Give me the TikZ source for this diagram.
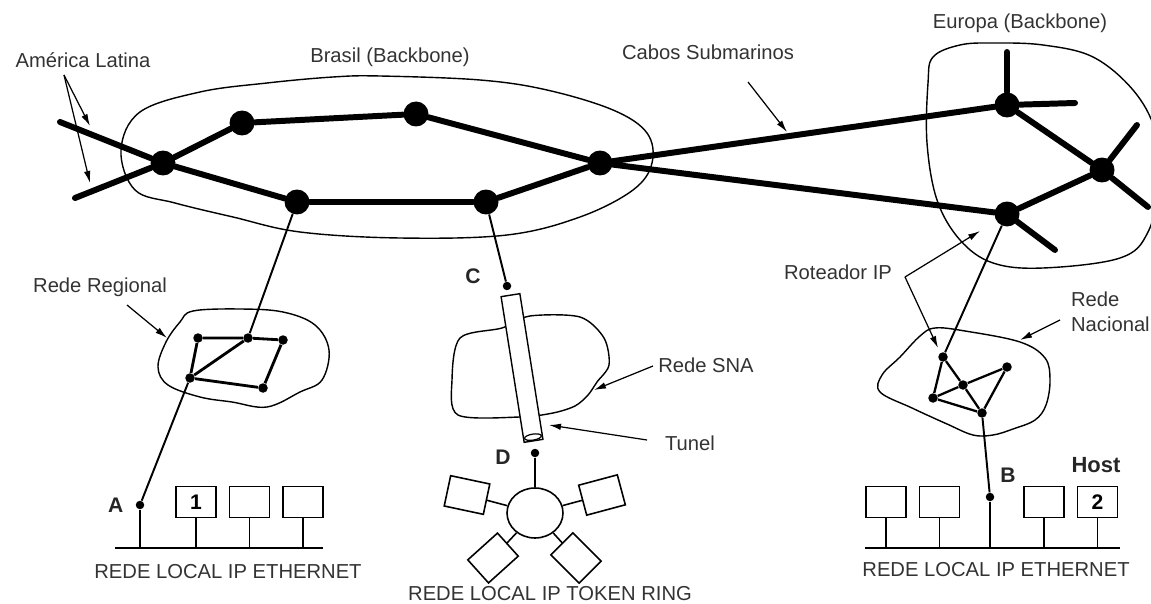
\documentclass[tikz,border=0pt]{standalone}
\usepackage{fontspec}
\setmainfont{Liberation Sans}
\usetikzlibrary{arrows.meta, positioning, shapes.geometric, calc}

\begin{document}
\begin{tikzpicture}[
    x=0.02cm, y=-0.02cm,
    lbl/.style={font=\fontsize{11.5}{14}\selectfont, text=black!80, inner sep=1pt},
    tag/.style={font=\fontsize{12}{13}\selectfont\bfseries, text=black!85, inner sep=1pt},
    hub/.style={circle, fill=black, inner sep=0pt, minimum size=0.5cm},
    dot/.style={circle, fill=black, inner sep=0pt, minimum size=#1},
    dot/.default=0.19cm,
    trunk/.style={line width=3.4pt, line cap=round},
    mesh/.style={line width=#1},
    mesh/.default=1.3pt,
    link/.style={line width=1.1pt},
    blob/.style={line width=0.8pt},
    bus/.style={line width=0.9pt},
    ptr/.style={-{Latex[length=2.4mm, width=1.3mm]}, line width=0.7pt},
    host/.style={draw, line width=0.9pt, fill=white, minimum width=0.8cm, minimum height=0.62cm, inner sep=0pt, font=\fontsize{12}{13}\selectfont\bfseries},
  ]
  \useasboundingbox (0,0) rectangle (1151,604);

  % Brasil backbone
  \draw[blob] plot[smooth cycle, tension=0.6] coordinates {(121,150) (140,112) (200,92) (267,83) (333,77) (380,76) (480,80) (547,90) (613,110) (647,133) (652,163) (633,190) (580,217) (507,235) (400,238) (300,232) (233,217) (175,203) (135,190)};
  \node[hub] (bx) at (163,163) {};
  \node[hub] (bnw) at (242,123) {};
  \node[hub] (bn) at (416,114) {};
  \node[hub] (be) at (600,163) {};
  \node[hub] (bse) at (486,202) {};
  \node[hub] (bsw) at (297,202) {};
  \coordinate (la1) at (60,122);
  \coordinate (la2) at (75,198);
  \draw[trunk] (la1) -- (bx) -- (bsw) -- (bse) -- (be) -- (bn) -- (bnw) -- (bx) -- (la2);

  % Europa backbone
  \draw[blob] plot[smooth cycle, tension=0.6] coordinates {(933,57) (960,45) (993,43) (1043,45) (1093,57) (1133,90) (1155,130) (1160,180) (1148,232) (1120,258) (1043,268) (993,263) (960,240) (937,200) (927,143) (928,83)};
  \node[hub] (e1) at (1007,105) {};
  \node[hub] (e2) at (1102,170) {};
  \node[hub] (e3) at (1007,214) {};
  \coordinate (e1n) at (1007,52);
  \coordinate (e1e) at (1075,103);
  \coordinate (e2n) at (1137,125);
  \coordinate (e2s) at (1148,207);
  \coordinate (e3s) at (1055,250);
  \draw[trunk] (be) -- (e1);
  \draw[trunk] (be) -- (e3);
  \draw[trunk] (e1) -- (e2) -- (e3);
  \draw[trunk] (e1) -- (e1n);
  \draw[trunk] (e1) -- (e1e);
  \draw[trunk] (e2) -- (e2n);
  \draw[trunk] (e2) -- (e2s);
  \draw[trunk] (e3) -- (e3s);

  \node[lbl] (lalbl) at (83,60) {América Latina};
  \node[lbl] (brlbl) at (390,57) {Brasil (Backbone)};
  \node[lbl] (cablbl) at (708,52) {Cabos Submarinos};
  \node[lbl] (eulbl) at (1020,23) {Europa (Backbone)};
  \coordinate (la0) at (64,75);
  \coordinate (laA) at (90,126);
  \coordinate (laB) at (90,183);
  \draw[ptr] (la0) -- (laA);
  \draw[ptr] (la0) -- (laB);
  \coordinate (cab0) at (748,82);
  \coordinate (cab1) at (787,132);
  \draw[ptr] (cab0) -- (cab1);

  % Rede regional
  \draw[blob] plot[smooth cycle, tension=0.6] coordinates {(193,311) (240,309) (283,312) (315,325) (329,350) (322,380) (300,392) (267,407) (232,402) (200,397) (168,385) (158,367) (166,342) (180,322)};
  \node[dot] (r1) at (198,338) {};
  \node[dot] (r2) at (248,338) {};
  \node[dot] (r3) at (283,340) {};
  \node[dot] (r4) at (263,388) {};
  \node[dot] (r5) at (190,378) {};
  \draw[mesh=1.6pt] (r1) -- (r2) -- (r3) -- (r4) -- (r5) -- (r1);
  \draw[mesh=1.6pt] (r5) -- (r2);
  \node[lbl] (reglbl) at (100,287) {Rede Regional};
  \coordinate (reg0) at (127,305);
  \coordinate (reg1) at (167,338);
  \draw[ptr] (reg0) -- (reg1);
  \draw[link] (bsw) -- (r2);

  % LAN ethernet (A)
  \node[dot=0.17cm] (a) at (140,505) {};
  \node[tag, left=0.2cm of a] (albl) {A};
  \draw[link] (r5) -- (a);
  \node[host] (h1) at (196,502) {1};
  \node[host, right=0.24cm of h1] (h2) {};
  \node[host, right=0.24cm of h2] (h3) {};
  \coordinate (busA) at (115,548);
  \coordinate (busB) at (323,548);
  \draw[bus] (busA) -- (busB);
  \foreach \h in {a,h1,h2,h3}
    \draw[bus] (\h) -- (\h |- busA);
  \node[lbl] (lan1lbl) at (228,572) {REDE LOCAL IP ETHERNET};

  % Rede SNA and tunnel
  \draw[blob] plot[smooth cycle, tension=0.5] coordinates {(460,338) (502,328) (530,316) (580,317) (604,338) (609,365) (597,382) (588,395) (575,406) (553,413) (520,417) (458,415) (452,380)};
  \node[dot=0.17cm] (c) at (507,286) {};
  \node[tag] (clbl) at (473,276) {C};
  \draw[link] (bse) -- (c);
  \node[draw, line width=0.8pt, fill=white, rotate=9, minimum width=0.38cm, minimum height=2.95cm, inner sep=0pt] (tun) at (522,368) {};
  \node[draw, ellipse, line width=0.7pt, rotate=9, minimum width=0.34cm, minimum height=0.12cm, inner sep=0pt] (tunend) at ($(tun.south)!0.03!(tun.north)$) {};
  \node[dot=0.17cm] (d) at (535,453) {};
  \node[tag] (dlbl) at (503,457) {D};
  \node[lbl] (snalbl) at (706,365) {Rede SNA};
  \coordinate (sna0) at (653,366);
  \coordinate (sna1) at (594,390);
  \draw[ptr] (sna0) -- (sna1);
  \node[lbl] (tunlbl) at (690,443) {Tunel};
  \coordinate (tun0) at (647,440);
  \coordinate (tun1) at (549,425);
  \draw[ptr] (tun0) -- (tun1);

  % LAN token ring
  \node[draw, ellipse, line width=0.9pt, minimum width=1.12cm, minimum height=1cm, inner sep=0pt] (ring) at (535,513) {};
  \draw[bus] (d) -- (ring);
  \coordinate (tc1) at (467,495);
  \coordinate (tc2) at (602,495);
  \coordinate (tc3) at (493,558);
  \coordinate (tc4) at (576,558);
  \foreach \t in {tc1,tc2,tc3,tc4}
    \draw[bus] (ring) -- (\t);
  \node[host, rotate=-12] (t1) at (tc1) {};
  \node[host, rotate=15] (t2) at (tc2) {};
  \node[host, rotate=42] (t3) at (tc3) {};
  \node[host, rotate=-45] (t4) at (tc4) {};
  \node[lbl] (lan2lbl) at (550,594) {REDE LOCAL IP TOKEN RING};

  % Rede nacional
  \draw[blob] plot[smooth cycle, tension=0.6] coordinates {(920,336) (935,328) (965,331) (1020,342) (1045,358) (1050,380) (1046,405) (1035,420) (1013,429) (993,435) (973,435) (947,424) (912,408) (880,392) (882,375) (900,357)};
  \node[dot] (n1) at (943,357) {};
  \node[dot] (n2) at (963,385) {};
  \node[dot] (n3) at (1007,367) {};
  \node[dot] (n4) at (933,398) {};
  \node[dot] (n5) at (982,413) {};
  \draw[link] (e3) -- (n1);
  \draw[mesh] (n1) -- (n4) -- (n5) -- (n3) -- (n2) -- (n1);
  \draw[mesh] (n4) -- (n2) -- (n5);
  \node[lbl] (rotlbl) at (838,272) {Roteador IP};
  \coordinate (rot0) at (905,277);
  \coordinate (rotA) at (980,231);
  \coordinate (rotB) at (938,348);
  \draw[ptr] (rot0) -- (rotA);
  \draw[ptr] (rot0) -- (rotB);
  \node[lbl, align=left, anchor=west] (naclbl) at (1069,312) {Rede\\Nacional};
  \coordinate (nac0) at (1060,320);
  \coordinate (nac1) at (1020,340);
  \draw[ptr] (nac0) -- (nac1);

  % LAN ethernet (B)
  \node[dot=0.17cm] (b) at (990,497) {};
  \node[tag] (blbl) at (1008,475) {B};
  \draw[link] (n5) -- (b);
  \node[host] (h4) at (886,502) {};
  \node[host, right=0.24cm of h4] (h5) {};
  \node[host] (h6) at (1044,502) {};
  \node[host, right=0.24cm of h6] (h7) {2};
  \node[tag, font=\fontsize{12.5}{13}\selectfont\bfseries] (hostlbl) at (1096,465) {Host};
  \coordinate (busC) at (865,548);
  \coordinate (busD) at (1120,548);
  \draw[bus] (busC) -- (busD);
  \foreach \h in {h4,h5,b,h6,h7}
    \draw[bus] (\h) -- (\h |- busC);
  \node[lbl] (lan3lbl) at (996,570) {REDE LOCAL IP ETHERNET};
\end{tikzpicture}
\end{document}
